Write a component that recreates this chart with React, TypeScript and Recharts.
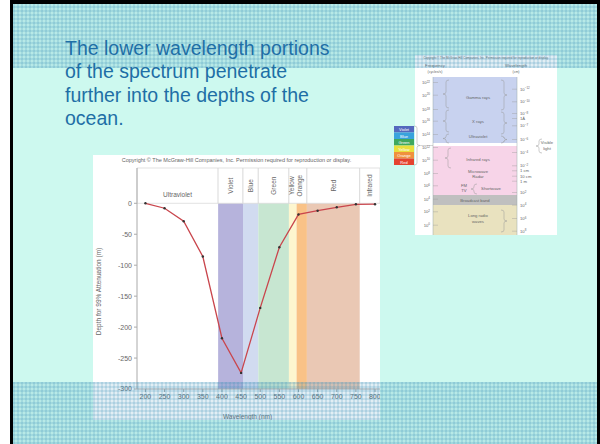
import React from "react";
import {
  LineChart,
  Line,
  XAxis,
  YAxis,
  ReferenceArea,
} from "recharts";

// attenuation depth by wavelength
const wavelengths = [200, 250, 300, 350, 400, 450, 500, 550, 600, 650, 700, 750, 800];
const depths = [0, -8, -29, -86, -218, -274, -169, -71, -18, -12, -6.5, -1.6, -1.5];

const xTicks = [200, 250, 300, 350, 400, 450, 500, 550, 600, 650, 700, 750, 800];
const yTicks = [0, -50, -100, -150, -200, -250, -300];

// coloured bands of the visible range
const bandStart = [390, 455, 495, 575, 595, 622];
const bandEnd = [455, 495, 575, 595, 622, 760];
const bandColors = ["#b6b3dc", "#d1dbf0", "#c7e6d1", "#fdf6cf", "#f9c287", "#eac8b4"];

// header cells above the plot
const headerNames = ["Ultraviolet", "Violet", "Blue", "Green", "", "Red", "Infrared"];
const headerStart = [178, 390, 455, 495, 575, 622, 760];
const headerEnd = [390, 455, 495, 575, 622, 760, 813];
const subNames = ["Yellow", "Orange"];
const subStart = [575, 592];
const subEnd = [592, 616];

const data = wavelengths.map((w, i) => ({ wl: w, depth: depths[i] }));

const FONT = "'Liberation Sans', Arial, sans-serif";
const MINT = "#cdf9ef";

const checker =
  "repeating-linear-gradient(90deg, rgba(60,143,183,0.18) 0 2px, transparent 2px 4px)," +
  "repeating-linear-gradient(0deg, rgba(60,143,183,0.18) 0 2px, transparent 2px 4px)," +
  "linear-gradient(rgba(60,143,183,0.15), rgba(60,143,183,0.15))";

const renderYLabel = (props: any) => {
  const vb = props.viewBox || {};
  const x = (vb.x ?? 0) + 5;
  const y = (vb.y ?? 13) + (vb.height ?? 221) / 2 + 13;
  return (
    <text
      x={x}
      y={y}
      transform={`rotate(-90 ${x} ${y})`}
      textAnchor="middle"
      dominantBaseline="central"
      fontSize={6.5}
      fill="#666"
      fontFamily={FONT}
    >
      Depth for 99% Attenuation (m)
    </text>
  );
};

function DepthChart() {
  return (
    <LineChart
      width={287}
      height={265}
      data={data}
      margin={{ top: 13, right: 0, bottom: 0, left: 0 }}
      style={{ fontFamily: FONT }}
    >
      <XAxis
        dataKey="wl"
        type="number"
        domain={[178, 813]}
        ticks={xTicks}
        allowDataOverflow
        height={31}
        stroke="#aaa"
        tickSize={3}
        tick={{ fontSize: 7, fill: "#666" }}
        label={{ value: "Wavelength (nm)", position: "insideBottom", offset: 1, dx: -11, fontSize: 6.5, fill: "#666" }}
      />
      <YAxis
        type="number"
        domain={[-300, 57]}
        ticks={yTicks}
        allowDataOverflow
        width={44}
        stroke="#aaa"
        tickSize={3}
        tick={{ fontSize: 7, fill: "#666" }}
        label={{ content: renderYLabel }}
      />
      {bandStart.map((s, i) => (
        <ReferenceArea
          key={"b" + i}
          x1={s}
          x2={bandEnd[i]}
          y1={-300}
          y2={0}
          fill={bandColors[i]}
          fillOpacity={1}
          stroke="none"
        />
      ))}
      {headerStart.map((s, i) => (
        <ReferenceArea
          key={"h" + i}
          x1={s}
          x2={headerEnd[i]}
          y1={0}
          y2={57}
          fill="#fff"
          fillOpacity={1}
          stroke="#d4d4d4"
          strokeWidth={0.7}
          label={
            headerNames[i] === ""
              ? undefined
              : i === 0
              ? { value: headerNames[i], position: "insideBottom", offset: 6, fontSize: 6.5, fill: "#666" }
              : { value: headerNames[i], position: "center", angle: -90, fontSize: 6.5, fill: "#666" }
          }
        />
      ))}
      {subStart.map((s, i) => (
        <ReferenceArea
          key={"s" + i}
          x1={s}
          x2={subEnd[i]}
          y1={0}
          y2={57}
          fill="none"
          fillOpacity={0}
          stroke="none"
          label={{ value: subNames[i], position: "center", angle: -90, fontSize: 6.5, fill: "#666" }}
        />
      ))}
      <Line
        type="linear"
        dataKey="depth"
        stroke="#c9454c"
        strokeWidth={1.3}
        dot={{ r: 1.2, fill: "#333", stroke: "none" }}
        isAnimationActive={false}
      />
    </LineChart>
  );
}

// small electromagnetic spectrum figure
const freqLabels = ["22", "20", "18", "16", "14", "12", "10", "8", "6", "4", "2", "0"];
const freqY = [34, 46.7, 61, 72.7, 86, 99, 111.7, 125, 137.3, 150.7, 163.3, 176.7];
const waveBase = ["10", "10", "10", "1Å", "10", "10", "10", "10", "1 cm", "10 cm", "1 m", "10", "10", "10", "10"];
const waveExp = ["−12", "−10", "−8", "", "−7", "−6", "−4", "−2", "", "", "", "2", "4", "6", "8"];
const waveY = [40.7, 53.3, 65, 70, 77.3, 91, 104, 117.3, 122.3, 127.7, 132.7, 144, 156.7, 170, 182.7];
const legendNames = ["Violet", "Blue", "Green", "Yellow", "Orange", "Red"];
const legendColors = ["#5468bd", "#38a3dd", "#3fa85e", "#e8df3c", "#f0913e", "#e5432f"];

function brace(x: number, y1: number, y2: number, dir: number) {
  const m = (y1 + y2) / 2;
  const w = 3 * dir;
  return `M${x + w},${y1} Q${x},${y1} ${x},${y1 + 2} L${x},${m - 2} Q${x},${m} ${x - w},${m} Q${x},${m} ${x},${m + 2} L${x},${y2 - 2} Q${x},${y2} ${x + w},${y2}`;
}

function Spectrum() {
  const txt = { fontSize: 4.2, fill: "#666", fontFamily: FONT, textAnchor: "middle" as const };
  return (
    <svg width={170} height={190} style={{ position: "absolute", left: 390, top: 50 }}>
      <rect x={25} y={5} width={142} height={180} fill="#fff" />
      <text x={96} y={9} {...txt} fontSize={3}>
        Copyright © The McGraw-Hill Companies, Inc. Permission required for reproduction or display.
      </text>
      <text x={45} y={17} {...txt}>Frequency</text>
      <text x={45} y={23} {...txt} fontSize={3.5}>(cycles/s)</text>
      <text x={126} y={17} {...txt}>Wavelength</text>
      <text x={126} y={23} {...txt} fontSize={3.5}>(cm)</text>
      <rect x={43} y={27} width={84} height={66} fill="#c8d2ef" />
      <rect x={43} y={96} width={84} height={49} fill="#f7d4e8" />
      <rect x={43} y={145} width={84} height={10} fill="#bfbfbf" />
      <rect x={43} y={155} width={84} height={30} fill="#e9e2bf" />
      <line x1={43} y1={27} x2={43} y2={185} stroke="#9aa" strokeWidth={0.5} />
      <line x1={127} y1={27} x2={127} y2={185} stroke="#9aa" strokeWidth={0.5} />
      {freqY.map((y, i) => (
        <g key={"f" + i}>
          <line x1={43} y1={y - 1.5} x2={48} y2={y - 1.5} stroke="#999" strokeWidth={0.4} />
          <text x={40} y={y} fontSize={4.2} fill="#666" fontFamily={FONT} textAnchor="end">
            10<tspan dy={-1.5} fontSize={3}>{freqLabels[i]}</tspan>
          </text>
        </g>
      ))}
      {waveY.map((y, i) => (
        <g key={"w" + i}>
          <line x1={122} y1={y - 1.5} x2={127} y2={y - 1.5} stroke="#999" strokeWidth={0.4} />
          <text x={130} y={y} fontSize={4.2} fill="#666" fontFamily={FONT}>
            {waveBase[i]}
            {waveExp[i] ? <tspan dy={-1.5} fontSize={3}>{waveExp[i]}</tspan> : null}
          </text>
        </g>
      ))}
      <path d={brace(56, 30, 58, 1)} fill="none" stroke="#999" strokeWidth={0.5} />
      <path d={brace(56, 60, 82, 1)} fill="none" stroke="#999" strokeWidth={0.5} />
      <path d={brace(56, 84, 93, 1)} fill="none" stroke="#999" strokeWidth={0.5} />
      <path d={brace(58, 98, 118, 1)} fill="none" stroke="#999" strokeWidth={0.5} />
      <path d={brace(114, 30, 60, -1)} fill="none" stroke="#999" strokeWidth={0.5} />
      <path d={brace(114, 62, 84, -1)} fill="none" stroke="#999" strokeWidth={0.5} />
      <path d={brace(114, 86, 93, -1)} fill="none" stroke="#999" strokeWidth={0.5} />
      <path d={brace(84, 134, 144, 1)} fill="none" stroke="#999" strokeWidth={0.5} />
      <path d={brace(114, 160, 182, -1)} fill="none" stroke="#999" strokeWidth={0.5} />
      <text x={88} y={49} {...txt}>Gamma rays</text>
      <text x={88} y={73} {...txt}>X rays</text>
      <text x={88} y={88} {...txt}>Ultraviolet</text>
      <text x={88} y={111} {...txt}>Infrared rays</text>
      <text x={88} y={123} {...txt}>Microwave</text>
      <text x={88} y={128} {...txt}>Radar</text>
      <text x={74} y={137} {...txt}>FM</text>
      <text x={74} y={142} {...txt}>TV</text>
      <text x={101} y={140} {...txt}>Shortwave</text>
      <text x={85} y={152} {...txt}>Broadcast band</text>
      <text x={88} y={167} {...txt}>Long radio</text>
      <text x={88} y={173} {...txt}>waves</text>
      {legendNames.map((n, i) => (
        <g key={"l" + i}>
          <rect x={4} y={76 + i * 6.5} width={20} height={6.5} fill={legendColors[i]} />
          <text x={14} y={81 + i * 6.5} {...txt} fontSize={4} fill="#fff">{n}</text>
        </g>
      ))}
      <path d={brace(27, 76, 115, -1)} fill="none" stroke="#999" strokeWidth={0.5} />
      <line x1={30} y1={95.5} x2={43} y2={95.5} stroke="#999" strokeWidth={0.4} />
      <path d={brace(149, 89, 103, 1)} fill="none" stroke="#999" strokeWidth={0.5} />
      <text x={157} y={94} {...txt}>Visible</text>
      <text x={157} y={100} {...txt}>light</text>
    </svg>
  );
}

export default function App() {
  return (
    <div
      style={{
        position: "fixed",
        left: 0,
        top: 0,
        width: 600,
        height: 444,
        background: "#fff",
        overflow: "hidden",
        fontFamily: FONT,
      }}
    >
      <div style={{ position: "absolute", left: 10, top: 0, width: 590, height: 444, background: "#000" }} />
      <div style={{ position: "absolute", left: 13, top: 4, width: 584, height: 440, background: MINT }} />
      <div style={{ position: "absolute", left: 93, top: 155, width: 287, height: 265, background: "#fff" }}>
        <div
          style={{
            position: "absolute",
            top: 1.5,
            left: 0,
            width: 287,
            textAlign: "center",
            fontSize: 5.5,
            color: "#666",
            whiteSpace: "nowrap",
          }}
        >
          Copyright © The McGraw-Hill Companies, Inc. Permission required for reproduction or display.
        </div>
        <DepthChart />
      </div>
      <Spectrum />
      <div style={{ position: "absolute", left: 13, top: 4, width: 584, height: 64, background: checker }} />
      <div style={{ position: "absolute", left: 13, top: 382, width: 584, height: 62, background: checker }} />
      <div
        style={{
          position: "absolute",
          left: 65,
          top: 36.5,
          fontSize: 19.5,
          lineHeight: "23.5px",
          color: "#1e6fa6",
          whiteSpace: "nowrap",
        }}
      >
        The lower wavelength portions
        <br />
        of the spectrum penetrate
        <br />
        further into the depths of the
        <br />
        ocean.
      </div>
    </div>
  );
}
